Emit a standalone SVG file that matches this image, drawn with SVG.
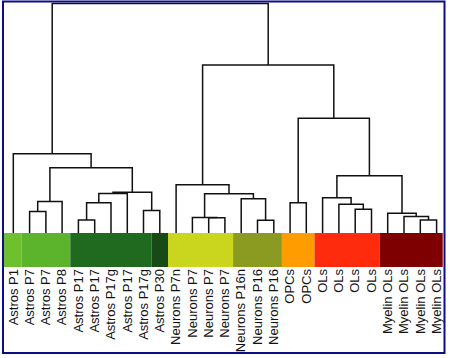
<svg xmlns="http://www.w3.org/2000/svg" width="450" height="358" viewBox="0 0 450 358">
<style>
.tree path{fill:none;stroke:#111;stroke-width:1.5}
.lbl{font-family:"Liberation Sans",Arial,sans-serif;font-size:13px;fill:#111;text-anchor:end}
</style>
<rect x="0" y="0" width="450" height="358" fill="#fff"/>
<g id="connectors" class="tree">
<path d="M29.6 233V211.5H45.9V233"/>
<path d="M37.7 211.5V201.5H62.1V233"/>
<path d="M78.4 233V220H94.7V233"/>
<path d="M86.6 220V202.7H111V233"/>
<path d="M98.8 202.7V193.5H127.3V233"/>
<path d="M143.5 233V210.5H159.8V233"/>
<path d="M113 193.5V192.3H151.7V210.5"/>
<path d="M49.9 201.5V167.7H132.3V192.3"/>
<path d="M13.3 233V153.8H91.1V167.7"/>
<path d="M208.7 233V217.7H224.9V233"/>
<path d="M192.4 233V217.5H216.8V217.7"/>
<path d="M257.5 233V220.3H273.8V233"/>
<path d="M241.2 233V198.8H265.6V220.3"/>
<path d="M204.6 217.5V193.7H253.4V198.8"/>
<path d="M176.1 233V184.8H229V193.7"/>
<path d="M290.1 233V202.7H306.3V233"/>
<path d="M355.2 233V209.3H371.5V233"/>
<path d="M338.9 233V204.3H363.3V209.3"/>
<path d="M322.6 233V197.7H351.1V204.3"/>
<path d="M420.3 233V220H436.6V233"/>
<path d="M404 233V216.5H428.5V220"/>
<path d="M387.7 233V213.2H416.2V216.5"/>
<path d="M336.9 197.7V175.8H402V213.2"/>
<path d="M298.2 202.7V118.2H369.4V175.8"/>
<path d="M202.6 184.8V65H333.8V118.2"/>
<path d="M52.2 153.8V3.5H268.2V65"/>
</g>
<g id="colorbar">
<rect x="4" y="233" width="17.4" height="34" fill="#6fc02e"/>
<rect x="21.4" y="233" width="48.9" height="34" fill="#5bb42b"/>
<rect x="70.3" y="233" width="81.4" height="34" fill="#1f6a1f"/>
<rect x="151.7" y="233" width="16.3" height="34" fill="#174a17"/>
<rect x="168" y="233" width="65.1" height="34" fill="#c9d61d"/>
<rect x="233.1" y="233" width="48.8" height="34" fill="#8b9a20"/>
<rect x="281.9" y="233" width="32.6" height="34" fill="#ff9c00"/>
<rect x="314.5" y="233" width="65.1" height="34" fill="#ff2b0c"/>
<rect x="379.6" y="233" width="63.1" height="34" fill="#7e0000"/>
</g>
<g id="leaf0"><text class="lbl" transform="translate(17.5,269) rotate(-90)">Astros P1</text></g>
<g id="leaf1"><text class="lbl" transform="translate(33.8,269) rotate(-90)">Astros P7</text></g>
<g id="leaf2"><text class="lbl" transform="translate(50.1,269) rotate(-90)">Astros P7</text></g>
<g id="leaf3"><text class="lbl" transform="translate(66.3,269) rotate(-90)">Astros P8</text></g>
<g id="leaf4"><text class="lbl" transform="translate(82.6,269) rotate(-90)">Astros P17</text></g>
<g id="leaf5"><text class="lbl" transform="translate(98.9,269) rotate(-90)">Astros P17</text></g>
<g id="leaf6"><text class="lbl" transform="translate(115.2,269) rotate(-90)">Astros P17g</text></g>
<g id="leaf7"><text class="lbl" transform="translate(131.5,269) rotate(-90)">Astros P17</text></g>
<g id="leaf8"><text class="lbl" transform="translate(147.7,269) rotate(-90)">Astros P17g</text></g>
<g id="leaf9"><text class="lbl" transform="translate(164,269) rotate(-90)">Astros P30</text></g>
<g id="leaf10"><text class="lbl" transform="translate(180.3,269) rotate(-90)">Neurons P7n</text></g>
<g id="leaf11"><text class="lbl" transform="translate(196.6,269) rotate(-90)">Neurons P7</text></g>
<g id="leaf12"><text class="lbl" transform="translate(212.9,269) rotate(-90)">Neurons P7</text></g>
<g id="leaf13"><text class="lbl" transform="translate(229.1,269) rotate(-90)">Neurons P7</text></g>
<g id="leaf14"><text class="lbl" transform="translate(245.4,269) rotate(-90)">Neurons P16n</text></g>
<g id="leaf15"><text class="lbl" transform="translate(261.7,269) rotate(-90)">Neurons P16</text></g>
<g id="leaf16"><text class="lbl" transform="translate(278,269) rotate(-90)">Neurons P16</text></g>
<g id="leaf17"><text class="lbl" transform="translate(294.3,269) rotate(-90)">OPCs</text></g>
<g id="leaf18"><text class="lbl" transform="translate(310.5,269) rotate(-90)">OPCs</text></g>
<g id="leaf19"><text class="lbl" transform="translate(326.8,269) rotate(-90)">OLs</text></g>
<g id="leaf20"><text class="lbl" transform="translate(343.1,269) rotate(-90)">OLs</text></g>
<g id="leaf21"><text class="lbl" transform="translate(359.4,269) rotate(-90)">OLs</text></g>
<g id="leaf22"><text class="lbl" transform="translate(375.7,269) rotate(-90)">OLs</text></g>
<g id="leaf23"><text class="lbl" transform="translate(391.9,269) rotate(-90)">Myelin OLs</text></g>
<g id="leaf24"><text class="lbl" transform="translate(408.2,269) rotate(-90)">Myelin OLs</text></g>
<g id="leaf25"><text class="lbl" transform="translate(424.5,269) rotate(-90)">Myelin OLs</text></g>
<g id="leaf26"><text class="lbl" transform="translate(440.8,269) rotate(-90)">Myelin OLs</text></g>
<rect id="frame" x="3" y="1.5" width="441.5" height="351.5" fill="none" stroke="#0d0d8a" stroke-width="2"/>
</svg>
